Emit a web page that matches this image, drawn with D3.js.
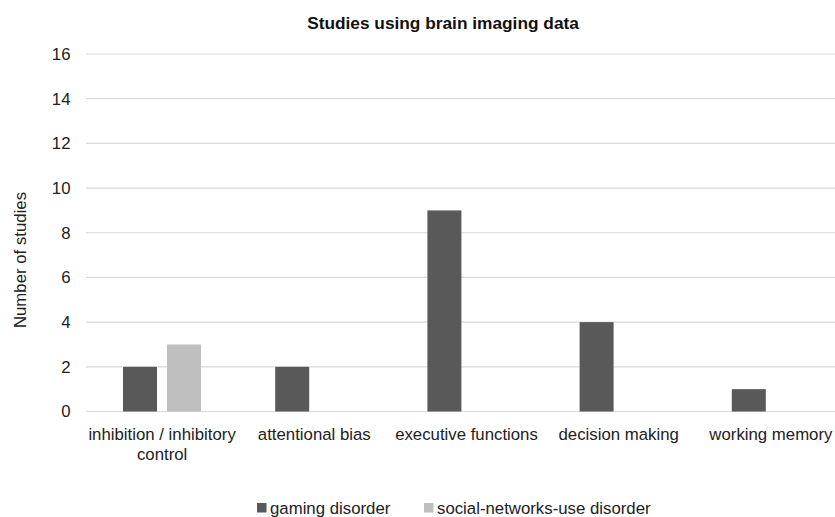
<!DOCTYPE html>
<html>
<head>
<meta charset="utf-8">
<script src="https://cdn.jsdelivr.net/npm/d3@7"></script>
<style>
  html, body { margin: 0; padding: 0; background: #fff; }
  svg { display: block; font-family: "Liberation Sans", Arial, sans-serif; }
</style>
</head>
<body>
<svg id="chart" width="835" height="517"></svg>
<script>
// Categories along the x axis (multi-line labels split on "\n")
const categories = [
  "inhibition / inhibitory\ncontrol",
  "attentional bias",
  "executive functions",
  "decision making",
  "working memory"
];
const seriesNames = ["gaming disorder", "social-networks-use disorder"];
const gamingDisorder = [2, 2, 9, 4, 1];
const socialNetworksDisorder = [3, 0, 0, 0, 0];
const yTicks = [0, 2, 4, 6, 8, 10, 12, 14, 16];
const seriesColors = ["#595959", "#bfbfbf"];

const seriesValues = [gamingDisorder, socialNetworksDisorder];
const rows = categories.map((c, i) => ({
  category: c,
  values: seriesNames.map((s, k) => ({ series: s, value: seriesValues[k][i] }))
}));

const svg = d3.select("#chart");
const plot = { left: 86, right: 847, top: 54, bottom: 411.5 };
const labelSize = 16.8;

const x0 = d3.scaleBand().domain(categories).range([plot.left, plot.right]).padding(0);
const x1 = d3.scaleBand().domain(seriesNames).range([37, 115]).paddingInner(0.227).paddingOuter(0);
const y = d3.scaleLinear().domain([0, 16]).range([plot.bottom, plot.top]);
const color = d3.scaleOrdinal().domain(seriesNames).range(seriesColors);

// Title
svg.append("text")
  .attr("x", 443).attr("y", 29)
  .attr("text-anchor", "middle")
  .attr("font-size", 17.3).attr("font-weight", "bold")
  .attr("fill", "#111")
  .text("Studies using brain imaging data");

// Horizontal gridlines
svg.append("g")
  .selectAll("line")
  .data(yTicks)
  .join("line")
  .attr("x1", plot.left).attr("x2", plot.right)
  .attr("y1", d => y(d)).attr("y2", d => y(d))
  .attr("stroke", "#d9d9d9").attr("stroke-width", 1.2);

// Y axis tick labels
const yAxis = d3.axisLeft(y).tickValues(yTicks).tickSize(0).tickPadding(15.5);
const yg = svg.append("g").attr("transform", `translate(${plot.left},0)`).call(yAxis);
yg.select(".domain").remove();
yg.selectAll("text").attr("font-size", labelSize).attr("fill", "#222")
  .attr("font-family", "Liberation Sans, Arial, sans-serif");

// Y axis title
svg.append("text")
  .attr("transform", "translate(26,260) rotate(-90)")
  .attr("text-anchor", "middle")
  .attr("font-size", labelSize).attr("fill", "#222")
  .text("Number of studies");

// Bars
const groups = svg.append("g").selectAll("g")
  .data(rows)
  .join("g")
  .attr("transform", d => `translate(${x0(d.category)},0)`);

groups.selectAll("rect")
  .data(d => d.values.filter(v => v.value > 0))
  .join("rect")
  .attr("x", d => x1(d.series))
  .attr("width", x1.bandwidth())
  .attr("y", d => y(d.value))
  .attr("height", d => y(0) - y(d.value))
  .attr("fill", d => color(d.series));

// Category labels
const xLabels = svg.append("g").selectAll("text")
  .data(categories)
  .join("text")
  .attr("x", d => x0(d) + x0.bandwidth() / 2)
  .attr("y", 440)
  .attr("text-anchor", "middle")
  .attr("font-size", labelSize).attr("fill", "#222");
xLabels.selectAll("tspan")
  .data(d => d.split("\n"))
  .join("tspan")
  .attr("x", function() { return d3.select(this.parentNode).attr("x"); })
  .attr("dy", (d, i) => i === 0 ? 0 : 20)
  .text(d => d);

// Legend
const legendItems = [
  { name: seriesNames[0], x: 257 },
  { name: seriesNames[1], x: 424 }
];
const legend = svg.append("g").selectAll("g")
  .data(legendItems)
  .join("g")
  .attr("transform", d => `translate(${d.x},503)`);
legend.append("rect")
  .attr("width", 9.5).attr("height", 9.5)
  .attr("fill", d => color(d.name));
legend.append("text")
  .attr("x", 13).attr("y", 11)
  .attr("font-size", labelSize).attr("fill", "#222")
  .text(d => d.name);
</script>
</body>
</html>
